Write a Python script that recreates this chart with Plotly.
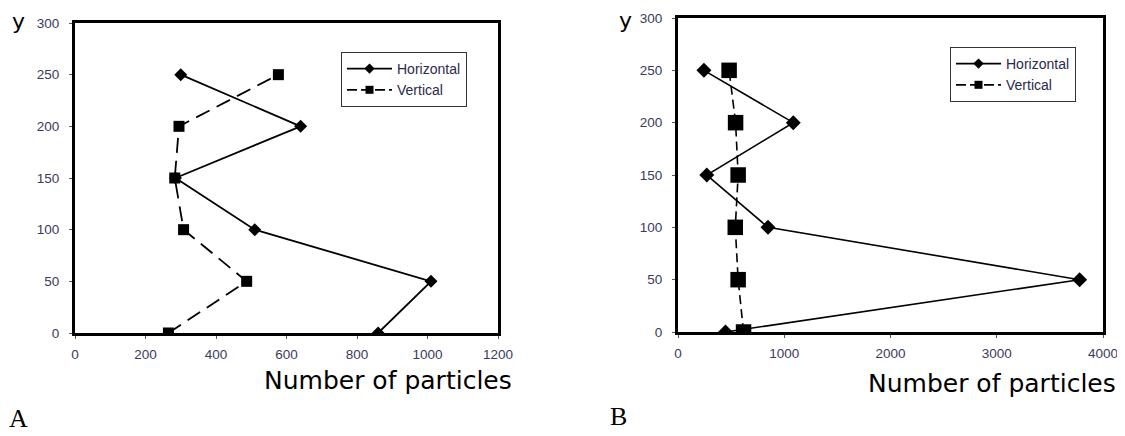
import plotly.graph_objects as go

# Data
heights = [0, 50, 100, 150, 200, 250]
a_horizontal = [860, 1010, 510, 285, 640, 300]
a_vertical = [265, 487, 308, 283, 295, 577]
b_horizontal = [447, 3780, 847, 271, 1085, 244]
b_vertical = [617, 566, 539, 566, 542, 481]

a_xticks = [0, 200, 400, 600, 800, 1000, 1200]
b_xticks = [0, 1000, 2000, 3000, 4000]
yticks = [0, 50, 100, 150, 200, 250, 300]
series_names = ["Horizontal", "Vertical"]

# the page body has an 8px margin; positions below are window pixels
OFF = 8
W, H = 1125 - OFF, 436 - OFF
fig = go.Figure()

tickfont = dict(family="Liberation Sans", size=13.5, color="#3a3a5c")


def px_x(v):
    return (v - OFF) / W


def px_y(v):
    return 1 - (v - OFF) / H


# Panel A traces
fig.add_trace(go.Scatter(x=a_horizontal, y=heights, mode="lines+markers", showlegend=False,
                         line=dict(color="black", width=1.8),
                         marker=dict(symbol="diamond", size=10, color="black"),
                         xaxis="x", yaxis="y"))
fig.add_trace(go.Scatter(x=a_vertical, y=heights, mode="lines+markers", showlegend=False,
                         line=dict(color="black", width=1.8, dash="15px,8px"),
                         marker=dict(symbol="square", size=11, color="black"),
                         xaxis="x", yaxis="y"))
# Panel B traces
fig.add_trace(go.Scatter(x=b_horizontal, y=heights, mode="lines+markers", showlegend=False,
                         line=dict(color="black", width=1.6),
                         marker=dict(symbol="diamond", size=11.5, color="black"),
                         xaxis="x2", yaxis="y2"))
fig.add_trace(go.Scatter(x=b_vertical, y=heights, mode="lines+markers", showlegend=False,
                         line=dict(color="black", width=1.6, dash="9px,5px"),
                         marker=dict(symbol="square", size=15.5, color="black"),
                         xaxis="x2", yaxis="y2"))

# Legend-only entries (small symbols as in the original legends)
for leg, xa, ya in [("legend", "x", "y"), ("legend2", "x2", "y2")]:
    fig.add_trace(go.Scatter(x=[None], y=[None], mode="lines+markers", name=series_names[0],
                             line=dict(color="black", width=1.8),
                             marker=dict(symbol="diamond", size=8, color="black"),
                             xaxis=xa, yaxis=ya, legend=leg))
    fig.add_trace(go.Scatter(x=[None], y=[None], mode="lines+markers", name=series_names[1],
                             line=dict(color="black", width=1.8, dash="10px,4px"),
                             marker=dict(symbol="square", size=8, color="black"),
                             xaxis=xa, yaxis=ya, legend=leg))

axis_common = dict(showgrid=False, zeroline=False, showline=True, linecolor="black",
                   linewidth=3, mirror=True, ticks="outside", ticklen=3, tickwidth=1,
                   tickcolor="#555", tickfont=tickfont, automargin=False)

legend_common = dict(xanchor="left", yanchor="top", bordercolor="#333", borderwidth=1,
                     bgcolor="white", font=dict(family="Liberation Sans", size=14, color="#2a2a4a"),
                     tracegroupgap=0, itemwidth=45)

fig.update_layout(
    width=W, height=H,
    margin=dict(l=0, r=0, t=0, b=0, pad=0, autoexpand=False),
    paper_bgcolor="white", plot_bgcolor="white",
    xaxis=dict(domain=[px_x(75), px_x(498)], range=[0, 1200], tickvals=a_xticks,
               anchor="y", ticklabelstandoff=4, **axis_common),
    yaxis=dict(domain=[px_y(333), px_y(23)], range=[0, 300], tickvals=yticks,
               anchor="x", ticklabelstandoff=7, **axis_common),
    xaxis2=dict(domain=[px_x(678), px_x(1103)], range=[0, 4000], tickvals=b_xticks,
                anchor="y2", ticklabelstandoff=4, **axis_common),
    yaxis2=dict(domain=[px_y(332), px_y(18)], range=[0, 300], tickvals=yticks,
                anchor="x2", ticklabelstandoff=7, **axis_common),
    legend=dict(x=px_x(341), y=px_y(52), **legend_common),
    legend2=dict(x=px_x(950), y=px_y(47), **legend_common),
    showlegend=True,
)

annots = [
    dict(text="y", x=px_x(18.5), y=px_y(21), xanchor="center",
         font=dict(family="DejaVu Sans", size=22, color="black")),
    dict(text="y", x=px_x(625), y=px_y(20), xanchor="center",
         font=dict(family="DejaVu Sans", size=22, color="black")),
    dict(text="Number of particles", x=px_x(388), y=px_y(380), xanchor="center",
         font=dict(family="DejaVu Sans", size=25, color="black")),
    dict(text="Number of particles", x=px_x(992), y=px_y(383), xanchor="center",
         font=dict(family="DejaVu Sans", size=25, color="black")),
    dict(text="A", x=0, y=px_y(418), xanchor="left", borderpad=0,
         font=dict(family="Liberation Serif", size=26, color="black")),
    dict(text="B", x=px_x(618), y=px_y(416), xanchor="center",
         font=dict(family="Liberation Serif", size=26, color="black")),
]
for a in annots:
    fig.add_annotation(xref="paper", yref="paper", showarrow=False, yanchor="middle", **a)

fig.write_html("out.html")
